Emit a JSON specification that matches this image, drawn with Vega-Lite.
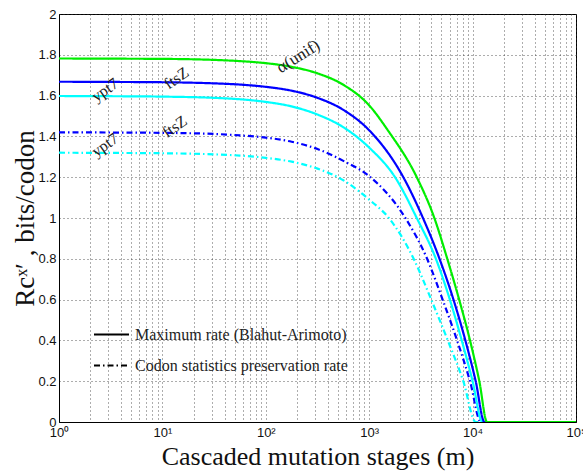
{
  "$schema": "https://vega.github.io/schema/vega-lite/v6.json",
  "width": 517,
  "height": 408,
  "autosize": {"type": "none"},
  "padding": {"left": 59, "top": 14, "right": 7, "bottom": 50},
  "background": "white",
  "config": {
    "view": {"stroke": "black", "strokeWidth": 1},
    "axis": {
      "domainColor": "black",
      "gridColor": "#333",
      "gridDash": [1, 3],
      "gridWidth": 1,
      "gridOpacity": 0.8,
      "labelFont": "Liberation Sans",
      "labelFontSize": 13,
      "labelColor": "#111",
      "titleFont": "Liberation Serif",
      "titleFontWeight": "normal",
      "titleFontSize": 26,
      "titleColor": "#111",
      "ticks": false
    }
  },
  "datasets": {
    "curves": [
      {"c": "ypt7 csp", "k": "csp", "m": 1, "r": 1.32},
      {"c": "ypt7 csp", "k": "csp", "m": 3.162, "r": 1.319},
      {"c": "ypt7 csp", "k": "csp", "m": 10, "r": 1.3175},
      {"c": "ypt7 csp", "k": "csp", "m": 31.62, "r": 1.312},
      {"c": "ypt7 csp", "k": "csp", "m": 56.23, "r": 1.306},
      {"c": "ypt7 csp", "k": "csp", "m": 100, "r": 1.295},
      {"c": "ypt7 csp", "k": "csp", "m": 177.8, "r": 1.276},
      {"c": "ypt7 csp", "k": "csp", "m": 316.2, "r": 1.242},
      {"c": "ypt7 csp", "k": "csp", "m": 562.3, "r": 1.185},
      {"c": "ypt7 csp", "k": "csp", "m": 1000, "r": 1.09},
      {"c": "ypt7 csp", "k": "csp", "m": 1549, "r": 1.0},
      {"c": "ypt7 csp", "k": "csp", "m": 2692, "r": 0.8},
      {"c": "ypt7 csp", "k": "csp", "m": 3981, "r": 0.6},
      {"c": "ypt7 csp", "k": "csp", "m": 5754, "r": 0.4},
      {"c": "ypt7 csp", "k": "csp", "m": 8128, "r": 0.2},
      {"c": "ypt7 csp", "k": "csp", "m": 10715, "r": 0},
      {"c": "ypt7 csp", "k": "csp", "m": 100000, "r": 0},

      {"c": "ftsZ csp", "k": "csp", "m": 1, "r": 1.42},
      {"c": "ftsZ csp", "k": "csp", "m": 3.162, "r": 1.419},
      {"c": "ftsZ csp", "k": "csp", "m": 10, "r": 1.4174},
      {"c": "ftsZ csp", "k": "csp", "m": 31.62, "r": 1.412},
      {"c": "ftsZ csp", "k": "csp", "m": 56.23, "r": 1.405},
      {"c": "ftsZ csp", "k": "csp", "m": 100, "r": 1.394},
      {"c": "ftsZ csp", "k": "csp", "m": 177.8, "r": 1.374},
      {"c": "ftsZ csp", "k": "csp", "m": 316.2, "r": 1.338},
      {"c": "ftsZ csp", "k": "csp", "m": 562.3, "r": 1.28},
      {"c": "ftsZ csp", "k": "csp", "m": 1000, "r": 1.205},
      {"c": "ftsZ csp", "k": "csp", "m": 2239, "r": 1.0},
      {"c": "ftsZ csp", "k": "csp", "m": 3631, "r": 0.8},
      {"c": "ftsZ csp", "k": "csp", "m": 5129, "r": 0.6},
      {"c": "ftsZ csp", "k": "csp", "m": 7079, "r": 0.4},
      {"c": "ftsZ csp", "k": "csp", "m": 9441, "r": 0.2},
      {"c": "ftsZ csp", "k": "csp", "m": 12023, "r": 0},
      {"c": "ftsZ csp", "k": "csp", "m": 100000, "r": 0},

      {"c": "ypt7 max", "k": "max", "m": 1, "r": 1.598},
      {"c": "ypt7 max", "k": "max", "m": 3.162, "r": 1.597},
      {"c": "ypt7 max", "k": "max", "m": 10, "r": 1.595},
      {"c": "ypt7 max", "k": "max", "m": 31.62, "r": 1.589},
      {"c": "ypt7 max", "k": "max", "m": 56.23, "r": 1.582},
      {"c": "ypt7 max", "k": "max", "m": 100, "r": 1.569},
      {"c": "ypt7 max", "k": "max", "m": 177.8, "r": 1.547},
      {"c": "ypt7 max", "k": "max", "m": 316.2, "r": 1.507},
      {"c": "ypt7 max", "k": "max", "m": 562.3, "r": 1.445},
      {"c": "ypt7 max", "k": "max", "m": 1000, "r": 1.345},
      {"c": "ypt7 max", "k": "max", "m": 1778, "r": 1.2},
      {"c": "ypt7 max", "k": "max", "m": 2884, "r": 1.0},
      {"c": "ypt7 max", "k": "max", "m": 4416, "r": 0.8},
      {"c": "ypt7 max", "k": "max", "m": 6026, "r": 0.6},
      {"c": "ypt7 max", "k": "max", "m": 7852, "r": 0.4},
      {"c": "ypt7 max", "k": "max", "m": 10000, "r": 0.2},
      {"c": "ypt7 max", "k": "max", "m": 12445, "r": 0},
      {"c": "ypt7 max", "k": "max", "m": 100000, "r": 0},

      {"c": "ftsZ max", "k": "max", "m": 1, "r": 1.668},
      {"c": "ftsZ max", "k": "max", "m": 3.162, "r": 1.667},
      {"c": "ftsZ max", "k": "max", "m": 10, "r": 1.6655},
      {"c": "ftsZ max", "k": "max", "m": 31.62, "r": 1.66},
      {"c": "ftsZ max", "k": "max", "m": 56.23, "r": 1.654},
      {"c": "ftsZ max", "k": "max", "m": 100, "r": 1.643},
      {"c": "ftsZ max", "k": "max", "m": 177.8, "r": 1.624},
      {"c": "ftsZ max", "k": "max", "m": 316.2, "r": 1.589},
      {"c": "ftsZ max", "k": "max", "m": 562.3, "r": 1.53},
      {"c": "ftsZ max", "k": "max", "m": 1000, "r": 1.43},
      {"c": "ftsZ max", "k": "max", "m": 2138, "r": 1.2},
      {"c": "ftsZ max", "k": "max", "m": 3311, "r": 1.0},
      {"c": "ftsZ max", "k": "max", "m": 4786, "r": 0.8},
      {"c": "ftsZ max", "k": "max", "m": 6531, "r": 0.6},
      {"c": "ftsZ max", "k": "max", "m": 8511, "r": 0.4},
      {"c": "ftsZ max", "k": "max", "m": 10715, "r": 0.2},
      {"c": "ftsZ max", "k": "max", "m": 13032, "r": 0},
      {"c": "ftsZ max", "k": "max", "m": 100000, "r": 0},

      {"c": "unif max", "k": "max", "m": 1, "r": 1.782},
      {"c": "unif max", "k": "max", "m": 3.162, "r": 1.781},
      {"c": "unif max", "k": "max", "m": 10, "r": 1.78},
      {"c": "unif max", "k": "max", "m": 31.62, "r": 1.775},
      {"c": "unif max", "k": "max", "m": 56.23, "r": 1.769},
      {"c": "unif max", "k": "max", "m": 100, "r": 1.759},
      {"c": "unif max", "k": "max", "m": 177.8, "r": 1.741},
      {"c": "unif max", "k": "max", "m": 316.2, "r": 1.709},
      {"c": "unif max", "k": "max", "m": 562.3, "r": 1.653},
      {"c": "unif max", "k": "max", "m": 1000, "r": 1.552},
      {"c": "unif max", "k": "max", "m": 1514, "r": 1.43},
      {"c": "unif max", "k": "max", "m": 2884, "r": 1.2},
      {"c": "unif max", "k": "max", "m": 4266, "r": 1.0},
      {"c": "unif max", "k": "max", "m": 5689, "r": 0.8},
      {"c": "unif max", "k": "max", "m": 7413, "r": 0.6},
      {"c": "unif max", "k": "max", "m": 9441, "r": 0.4},
      {"c": "unif max", "k": "max", "m": 11614, "r": 0.2},
      {"c": "unif max", "k": "max", "m": 13804, "r": 0},
      {"c": "unif max", "k": "max", "m": 100000, "r": 0}
    ],
    "labels": [
      {"t": "ypt7", "m": 2.79, "r": 1.627},
      {"t": "ftsZ", "m": 13.7, "r": 1.685},
      {"t": "ypt7", "m": 2.79, "r": 1.358},
      {"t": "ftsZ", "m": 13.2, "r": 1.447}
    ],
    "alpha": [
      {"t": "α(unif)", "m": 206, "r": 1.791}
    ]
  },
  "layer": [
    {
      "data": {"name": "curves"},
      "mark": {"type": "line", "strokeWidth": 2.2, "interpolate": "monotone", "clip": true},
      "encoding": {
        "x": {
          "field": "m",
          "type": "quantitative",
          "scale": {"type": "log", "domain": [1, 100000], "nice": false},
          "axis": {
            "values": [1,2,3,4,5,6,7,8,9,10,20,30,40,50,60,70,80,90,100,200,300,400,500,600,700,800,900,1000,2000,3000,4000,5000,6000,7000,8000,9000,10000,20000,30000,40000,50000,60000,70000,80000,90000,100000],
            "labelExpr": "indexof([1,10,100,1000,10000,100000], datum.value) >= 0 ? '10' + ['⁰','¹','²','³','⁴','⁵'][indexof([1,10,100,1000,10000,100000], datum.value)] : ''",
            "labelOverlap": false,
            "labelFlush": false,
            "labelPadding": 4,
            "grid": true,
            "title": "Cascaded mutation stages (m)",
            "titlePadding": 4
          }
        },
        "y": {
          "field": "r",
          "type": "quantitative",
          "scale": {"domain": [0, 2], "nice": false},
          "axis": {
            "values": [0, 0.2, 0.4, 0.6, 0.8, 1, 1.2, 1.4, 1.6, 1.8, 2],
            "format": "~g",
            "labelPadding": 3,
            "grid": true,
            "title": "Rcˣ′ ,  bits/codon",
            "titleFontSize": 27,
            "titlePadding": -2
          }
        },
        "color": {
          "field": "c",
          "type": "nominal",
          "scale": {
            "domain": ["ypt7 csp", "ftsZ csp", "ypt7 max", "ftsZ max", "unif max"],
            "range": ["#00FFFF", "#0000FF", "#00FFFF", "#0000FF", "#00EE00"]
          },
          "legend": null
        },
        "strokeDash": {
          "field": "k",
          "type": "nominal",
          "scale": {"domain": ["max", "csp"], "range": [[1, 0], [6, 3, 1.5, 3]]},
          "legend": {
            "orient": "none",
            "legendX": 34,
            "legendY": 302,
            "title": null,
            "padding": 0,
            "symbolType": "stroke",
            "symbolSize": 1225,
            "symbolStrokeColor": "black",
            "symbolStrokeWidth": 2,
            "labelFont": "Liberation Serif",
            "labelFontSize": 16,
            "labelColor": "#222",
            "labelOffset": 5,
            "labelLimit": 500,
            "rowPadding": 4,
            "labelExpr": "datum.value == 'max' ? 'Maximum rate (Blahut-Arimoto)' : 'Codon statistics preservation rate'"
          }
        }
      }
    },
    {
      "data": {"name": "labels"},
      "mark": {"type": "text", "font": "Liberation Serif", "fontSize": 16, "angle": 325, "color": "#222"},
      "encoding": {
        "x": {"field": "m", "type": "quantitative"},
        "y": {"field": "r", "type": "quantitative"},
        "text": {"field": "t"}
      }
    },
    {
      "data": {"name": "alpha"},
      "mark": {"type": "text", "font": "Liberation Serif", "fontSize": 17, "angle": 328, "color": "#222"},
      "encoding": {
        "x": {"field": "m", "type": "quantitative"},
        "y": {"field": "r", "type": "quantitative"},
        "text": {"field": "t"}
      }
    }
  ]
}
